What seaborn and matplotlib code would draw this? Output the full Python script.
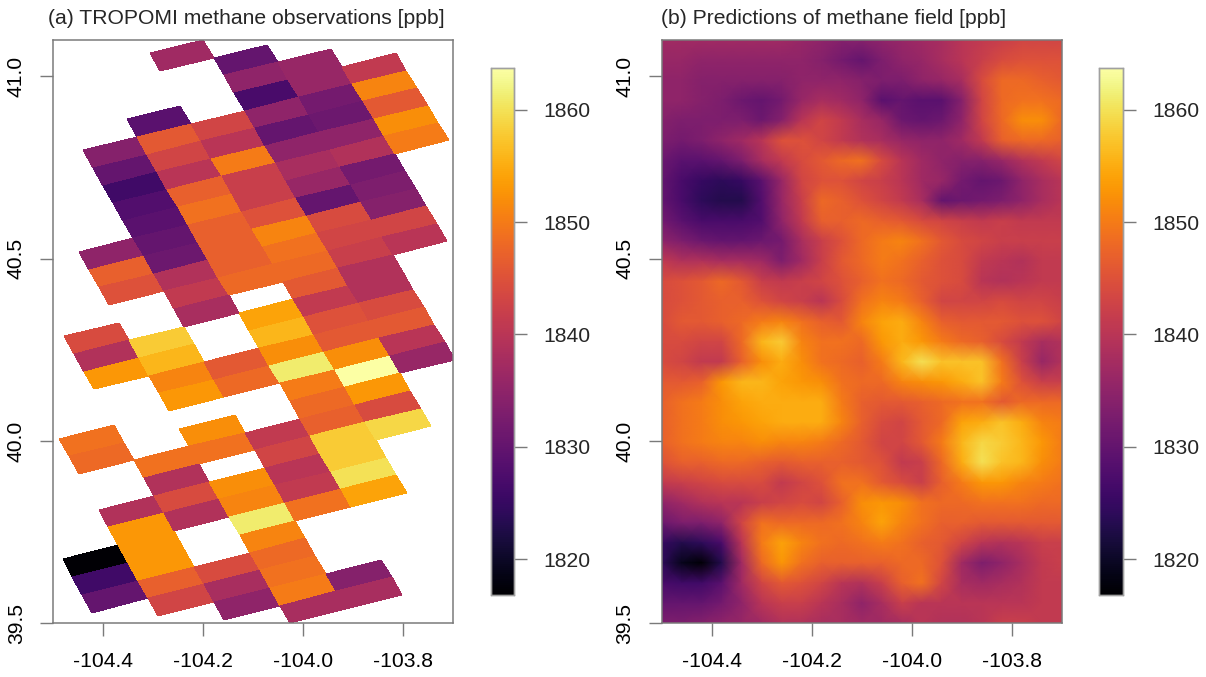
import numpy as np
import pandas as pd
import seaborn as sns
import matplotlib
matplotlib.use('Agg')
import matplotlib.pyplot as plt

N = np.nan
# TROPOMI pixels, one row per along-track scan line, one column per across-track pixel
obs_ppb = [
    [N, N, N, N, N, N, 1837, N, N, N],
    [N, N, N, N, N, N, N, 1830, N, N],
    [N, N, N, N, N, N, N, 1835, 1836, N],
    [N, N, N, N, N, 1829, N, 1827, 1836, 1841],
    [N, N, N, N, 1834, 1846, 1843, 1835, 1832, 1851],
    [N, N, N, N, 1830, 1843, 1840, 1830, 1831, 1846],
    [N, N, N, N, 1826, 1840, 1850, 1835, 1835, 1852],
    [N, N, N, N, 1828, 1847, 1842, 1838, 1839, 1850],
    [N, N, N, N, 1829, 1849, 1842, 1836, 1832, N],
    [N, N, N, 1835, 1830, 1847, 1845, 1830, 1833, N],
    [N, N, N, 1847, 1831, 1847, 1851, 1844, 1834, N],
    [N, N, N, 1845, 1839, 1847, 1849, 1843, 1843, N],
    [N, N, N, N, 1841, 1848, 1848, 1842, 1840, N],
    [N, N, 1844, N, 1838, N, 1846, 1839, N, N],
    [N, N, 1839, 1858, N, 1854, 1841, 1839, N, N],
    [N, N, 1853, 1856, N, 1856, 1845, 1844, N, N],
    [N, N, N, 1851, 1846, 1852, 1846, 1846, N, N],
    [N, N, N, 1853, 1848, 1861, 1852, 1840, N, N],
    [N, 1849, N, N, N, 1850, 1864, 1836, N, N],
    [N, 1848, N, 1852, N, 1848, 1853, N, N, N],
    [N, N, 1849, 1849, 1841, 1847, 1844, N, N, N],
    [N, N, 1839, N, 1843, 1858, 1859, N, N, N],
    [N, 1839, 1844, 1852, 1840, 1858, N, N, N, N],
    [N, 1853, 1839, 1851, 1841, 1860, N, N, N, N],
    [1817, 1853, N, 1861, 1849, 1854, N, N, N, N],
    [1826, 1853, N, 1851, N, N, N, N, N, N],
    [1830, 1847, 1844, 1848, N, N, N, N, N, N],
    [N, 1843, 1838, 1849, N, N, N, N, N, N],
    [N, N, 1835, 1850, 1834, N, N, N, N, N],
    [N, N, N, 1838, 1838, N, N, N, N, N],
]

pred_ppb = [
    [1837, 1837, 1837, 1837, 1837, 1837, 1837, 1836, 1835, 1834, 1834, 1835, 1836, 1837, 1838, 1840, 1841, 1842, 1843, 1843, 1843],
    [1836, 1836, 1835, 1835, 1835, 1835, 1835, 1835, 1834, 1832, 1830, 1833, 1835, 1836, 1838, 1840, 1842, 1844, 1845, 1845, 1845],
    [1835, 1835, 1834, 1834, 1834, 1834, 1834, 1835, 1835, 1835, 1834, 1833, 1833, 1835, 1836, 1838, 1844, 1848, 1848, 1847, 1846],
    [1835, 1835, 1834, 1833, 1831, 1830, 1832, 1836, 1838, 1837, 1835, 1829, 1830, 1829, 1829, 1834, 1843, 1848, 1849, 1849, 1848],
    [1834, 1833, 1833, 1833, 1833, 1831, 1834, 1840, 1843, 1841, 1838, 1836, 1831, 1830, 1831, 1835, 1843, 1848, 1852, 1852, 1848],
    [1833, 1832, 1833, 1835, 1837, 1840, 1845, 1845, 1843, 1841, 1839, 1838, 1836, 1835, 1835, 1837, 1841, 1847, 1848, 1848, 1847],
    [1831, 1829, 1829, 1830, 1833, 1838, 1841, 1844, 1846, 1848, 1849, 1844, 1840, 1837, 1835, 1834, 1834, 1836, 1839, 1841, 1843],
    [1830, 1827, 1825, 1824, 1825, 1829, 1836, 1843, 1845, 1845, 1843, 1842, 1840, 1837, 1836, 1832, 1830, 1831, 1835, 1838, 1840],
    [1830, 1827, 1824, 1823, 1823, 1828, 1836, 1842, 1848, 1847, 1845, 1843, 1841, 1838, 1830, 1831, 1832, 1833, 1835, 1838, 1840],
    [1832, 1829, 1827, 1827, 1827, 1828, 1835, 1841, 1847, 1847, 1848, 1847, 1846, 1844, 1843, 1842, 1841, 1842, 1841, 1841, 1841],
    [1835, 1833, 1831, 1830, 1830, 1831, 1832, 1838, 1842, 1845, 1848, 1850, 1851, 1849, 1846, 1844, 1843, 1842, 1842, 1842, 1842],
    [1841, 1839, 1839, 1838, 1838, 1837, 1833, 1837, 1842, 1846, 1848, 1850, 1849, 1847, 1845, 1844, 1841, 1840, 1839, 1841, 1841],
    [1844, 1845, 1846, 1848, 1846, 1842, 1841, 1842, 1843, 1845, 1847, 1849, 1848, 1846, 1845, 1844, 1840, 1839, 1840, 1841, 1841],
    [1844, 1845, 1846, 1847, 1847, 1845, 1843, 1842, 1840, 1844, 1849, 1851, 1850, 1847, 1843, 1843, 1843, 1844, 1843, 1843, 1842],
    [1844, 1846, 1846, 1847, 1848, 1850, 1851, 1849, 1847, 1846, 1851, 1854, 1855, 1851, 1847, 1846, 1846, 1846, 1845, 1845, 1843],
    [1844, 1844, 1843, 1843, 1848, 1856, 1858, 1851, 1849, 1849, 1848, 1853, 1855, 1853, 1850, 1848, 1847, 1844, 1841, 1838, 1839],
    [1844, 1843, 1841, 1841, 1847, 1852, 1855, 1852, 1849, 1848, 1847, 1850, 1856, 1860, 1857, 1857, 1857, 1849, 1842, 1836, 1839],
    [1846, 1846, 1847, 1853, 1856, 1856, 1854, 1853, 1852, 1849, 1848, 1848, 1851, 1852, 1853, 1855, 1857, 1850, 1845, 1842, 1842],
    [1847, 1849, 1850, 1852, 1854, 1855, 1855, 1855, 1855, 1850, 1847, 1846, 1846, 1847, 1848, 1849, 1849, 1846, 1848, 1848, 1848],
    [1847, 1849, 1850, 1852, 1853, 1854, 1855, 1855, 1855, 1851, 1847, 1844, 1843, 1846, 1848, 1854, 1855, 1857, 1855, 1851, 1850],
    [1847, 1849, 1850, 1851, 1851, 1852, 1851, 1851, 1850, 1848, 1846, 1843, 1843, 1846, 1850, 1856, 1859, 1858, 1856, 1853, 1850],
    [1845, 1847, 1847, 1848, 1848, 1847, 1846, 1847, 1847, 1847, 1846, 1845, 1841, 1842, 1848, 1855, 1860, 1857, 1856, 1852, 1850],
    [1841, 1842, 1843, 1844, 1844, 1844, 1841, 1843, 1845, 1849, 1849, 1846, 1844, 1842, 1847, 1850, 1853, 1853, 1851, 1850, 1849],
    [1835, 1837, 1839, 1840, 1840, 1842, 1843, 1844, 1843, 1847, 1852, 1853, 1852, 1849, 1848, 1848, 1849, 1849, 1849, 1848, 1848],
    [1831, 1833, 1833, 1835, 1843, 1849, 1848, 1848, 1848, 1849, 1851, 1854, 1851, 1849, 1847, 1847, 1846, 1846, 1846, 1846, 1846],
    [1825, 1823, 1824, 1827, 1840, 1850, 1854, 1851, 1849, 1848, 1849, 1850, 1849, 1847, 1846, 1843, 1840, 1839, 1840, 1842, 1842],
    [1824, 1819, 1817, 1823, 1837, 1848, 1853, 1849, 1847, 1847, 1847, 1847, 1848, 1848, 1845, 1837, 1833, 1835, 1838, 1841, 1842],
    [1827, 1826, 1826, 1829, 1837, 1843, 1846, 1845, 1843, 1840, 1839, 1842, 1847, 1849, 1843, 1838, 1837, 1838, 1839, 1841, 1841],
    [1830, 1830, 1830, 1832, 1835, 1840, 1842, 1842, 1840, 1838, 1835, 1838, 1842, 1840, 1840, 1840, 1840, 1840, 1840, 1841, 1841],
    [1833, 1833, 1834, 1835, 1836, 1837, 1839, 1839, 1838, 1838, 1837, 1837, 1838, 1840, 1839, 1839, 1840, 1842, 1842, 1841, 1841],
]

lon_ticks = [-104.4, -104.2, -104.0, -103.8]
lat_ticks = [39.5, 40.0, 40.5, 41.0]
cbar_ticks = [1820, 1830, 1840, 1850, 1860]
titles = ['(a) TROPOMI methane observations [ppb]', '(b) Predictions of methane field [ppb]']

# pixel footprint: corner of the black pixel, step per scan line, step per pixel (south / north end)
origin = np.array([-104.48, 39.676])
track_step = np.array([0.01956, -0.04882])
swath_south = np.array([0.1112, 0.0384])
swath_north = np.array([0.1072, 0.0359])
origin_row = 24

W, H = 1206, 677
vmin, vmax = 1816.8, 1863.7
edge = '#7a7a7a'

sns.set_style('white')
plt.rcParams['font.family'] = ['Liberation Sans', 'DejaVu Sans']
cmap = sns.color_palette('inferno', as_cmap=True)


def px_axes(fig, left, top, right, bottom):
    return fig.add_axes([left / W, 1 - bottom / H, (right - left) / W, (bottom - top) / H])


def finish(ax, title, tx):
    ax.set_xlabel('')
    ax.set_ylabel('')
    for s in ax.spines.values():
        s.set_visible(True)
        s.set_color(edge)
        s.set_linewidth(1.1)
    ax.tick_params(axis='both', length=9.4, width=1, color=edge, labelsize=15.2,
                   left=True, bottom=True, labelcolor='black')
    ax.tick_params(axis='x', pad=11, labelrotation=0)
    ax.tick_params(axis='y', pad=10)
    for t in ax.get_yticklabels():
        t.set_rotation(90)
        t.set_va('center')
    ax.figure.text(tx / W, 1 - 24 / H, title, fontsize=15.2, ha='left', va='baseline')


def style_cbar(cax):
    cax.tick_params(length=9.4, width=1, color=edge, labelsize=15.2, right=True, pad=12)
    cax.set_yticks(cbar_ticks)
    for s in cax.spines.values():
        s.set_visible(True)
        s.set_color('#a0a0a0')
        s.set_linewidth(1)


fig = plt.figure(figsize=(W / 100, H / 100), dpi=100)

# panel a: skewed satellite pixels
ax_a = px_axes(fig, 52.7, 40, 452.7, 623.3)
cax_a = px_axes(fig, 490.7, 68.3, 514, 595)
obs = np.ma.masked_invalid(np.array(obs_ppb, dtype=float))
rows, cols = np.meshgrid(np.arange(obs.shape[0] + 1), np.arange(obs.shape[1] + 1), indexing='ij')
frac = (origin_row - rows) / origin_row
X = origin[0] + (rows - origin_row) * track_step[0] + cols * (swath_south[0] + frac * (swath_north[0] - swath_south[0]))
Y = origin[1] + (rows - origin_row) * track_step[1] + cols * (swath_south[1] + frac * (swath_north[1] - swath_south[1]))
mesh = ax_a.pcolormesh(X, Y, obs, cmap=cmap, vmin=vmin, vmax=vmax, linewidth=0, rasterized=True)
ax_a.set_xlim(-104.5, -103.7)
ax_a.set_ylim(39.5, 41.1)
ax_a.set_xticks(lon_ticks)
ax_a.set_xticklabels([str(v) for v in lon_ticks])
ax_a.set_yticks(lat_ticks)
ax_a.set_yticklabels([str(v) for v in lat_ticks])
finish(ax_a, titles[0], 48)
fig.colorbar(mesh, cax=cax_a)
style_cbar(cax_a)

# panel b: smooth field through seaborn
ax_b = px_axes(fig, 661.5, 40, 1062, 623.3)
cax_b = px_axes(fig, 1099, 68.3, 1123, 595)
pred = pd.DataFrame(pred_ppb)
sns.heatmap(pred, ax=ax_b, cbar_ax=cax_b, cmap=cmap, vmin=vmin, vmax=vmax, shading='gouraud')
n_rows, n_cols = pred.shape
ax_b.set_xlim(0, n_cols - 1)
ax_b.set_ylim(n_rows - 1, 0)
ax_b.set_xticks([(v + 104.5) / 0.8 * (n_cols - 1) for v in lon_ticks])
ax_b.set_xticklabels([str(v) for v in lon_ticks])
ax_b.set_yticks([(41.1 - v) / 1.6 * (n_rows - 1) for v in lat_ticks])
ax_b.set_yticklabels([str(v) for v in lat_ticks])
finish(ax_b, titles[1], 661)
style_cbar(cax_b)

fig.savefig('out.png', dpi=100)
